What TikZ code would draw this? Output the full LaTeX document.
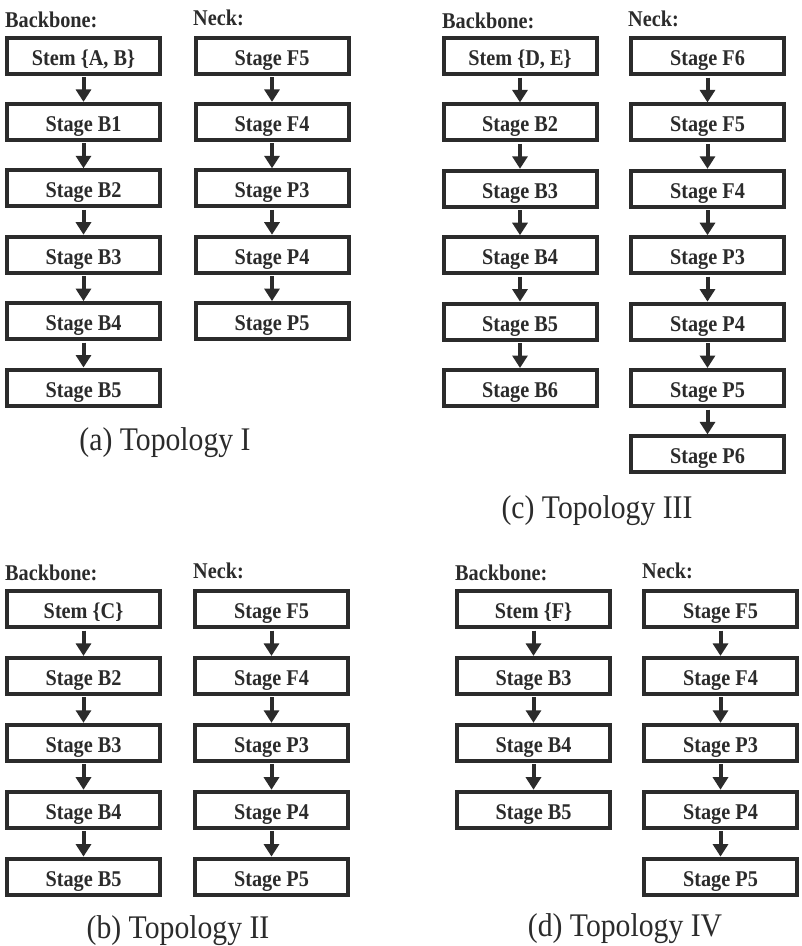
\documentclass[tikz,border=0pt]{standalone}
\usepackage{fontspec}
\setmainfont{Liberation Serif}[FakeStretch=0.9]
\usetikzlibrary{arrows.meta}
\definecolor{ink}{HTML}{2B2B2B}
\tikzset{
  box/.style={draw=ink, line width=4pt, minimum width=153pt, minimum height=36pt,
    inner sep=0pt, text height=19pt, text depth=0pt, text=ink, font=\fontsize{22.5}{24}\selectfont\bfseries},
  arr/.style={draw=ink, line width=4pt, -{Triangle[width=15pt,length=12.5pt]}, shorten <=1.5pt},
  headtxt/.style={anchor=base west, inner sep=0pt, text=ink, font=\fontsize{22.5}{24}\selectfont\bfseries},
  captxt/.style={anchor=base, inner sep=0pt, text=ink, font=\fontsize{33}{36}\selectfont}
}
\newcommand\stagecol[5]{%
  \foreach \t [count=\i, remember=\i as \j (initially 0)] in {#5} {%
    \node[box] (#1-\i) at (#2, {#3+(\i-1)*#4}) {\t};
    \ifnum\i>1 \draw[arr] (#1-\j.south) -- (#1-\i.north);\fi
  }%
}
\begin{document}
\begin{tikzpicture}[x=1pt,y=-1pt]
\useasboundingbox[fill=white] (0,0) rectangle (802,946);
% (a)
\node[headtxt] (ahb) at (5,27) {Backbone:};
\node[headtxt] (ahn) at (193,25.5) {Neck:};
\stagecol{ab}{83.5}{55.5}{66.4}{{Stem \{A, B\}},Stage B1,Stage B2,Stage B3,Stage B4,Stage B5}
\stagecol{an}{272}{55.5}{66.4}{Stage F5,Stage F4,Stage P3,Stage P4,Stage P5}
\node[captxt] (acap) at (165,450) {(a) Topology I};
% (c)
\node[headtxt] (chb) at (442,28) {Backbone:};
\node[headtxt] (chn) at (628,26) {Neck:};
\stagecol{cb}{520}{56}{66.4}{{Stem \{D, E\}},Stage B2,Stage B3,Stage B4,Stage B5,Stage B6}
\stagecol{cn}{707.5}{56}{66.4}{Stage F6,Stage F5,Stage F4,Stage P3,Stage P4,Stage P5,Stage P6}
\node[captxt] (ccap) at (597,518) {(c) Topology III};
% (b)
\node[headtxt] (bhb) at (5,580) {Backbone:};
\node[headtxt] (bhn) at (193,578) {Neck:};
\stagecol{bb}{83.5}{609}{66.9}{{Stem \{C\}},Stage B2,Stage B3,Stage B4,Stage B5}
\stagecol{bn}{271.5}{609}{66.9}{Stage F5,Stage F4,Stage P3,Stage P4,Stage P5}
\node[captxt] (bcap) at (178,938) {(b) Topology II};
% (d)
\node[headtxt] (dhb) at (455,580) {Backbone:};
\node[headtxt] (dhn) at (642,578) {Neck:};
\stagecol{db}{533.5}{609}{66.9}{{Stem \{F\}},Stage B3,Stage B4,Stage B5}
\stagecol{dn}{720.5}{609}{66.9}{Stage F5,Stage F4,Stage P3,Stage P4,Stage P5}
\node[captxt] (dcap) at (625,936) {(d) Topology IV};
\end{tikzpicture}
\end{document}
